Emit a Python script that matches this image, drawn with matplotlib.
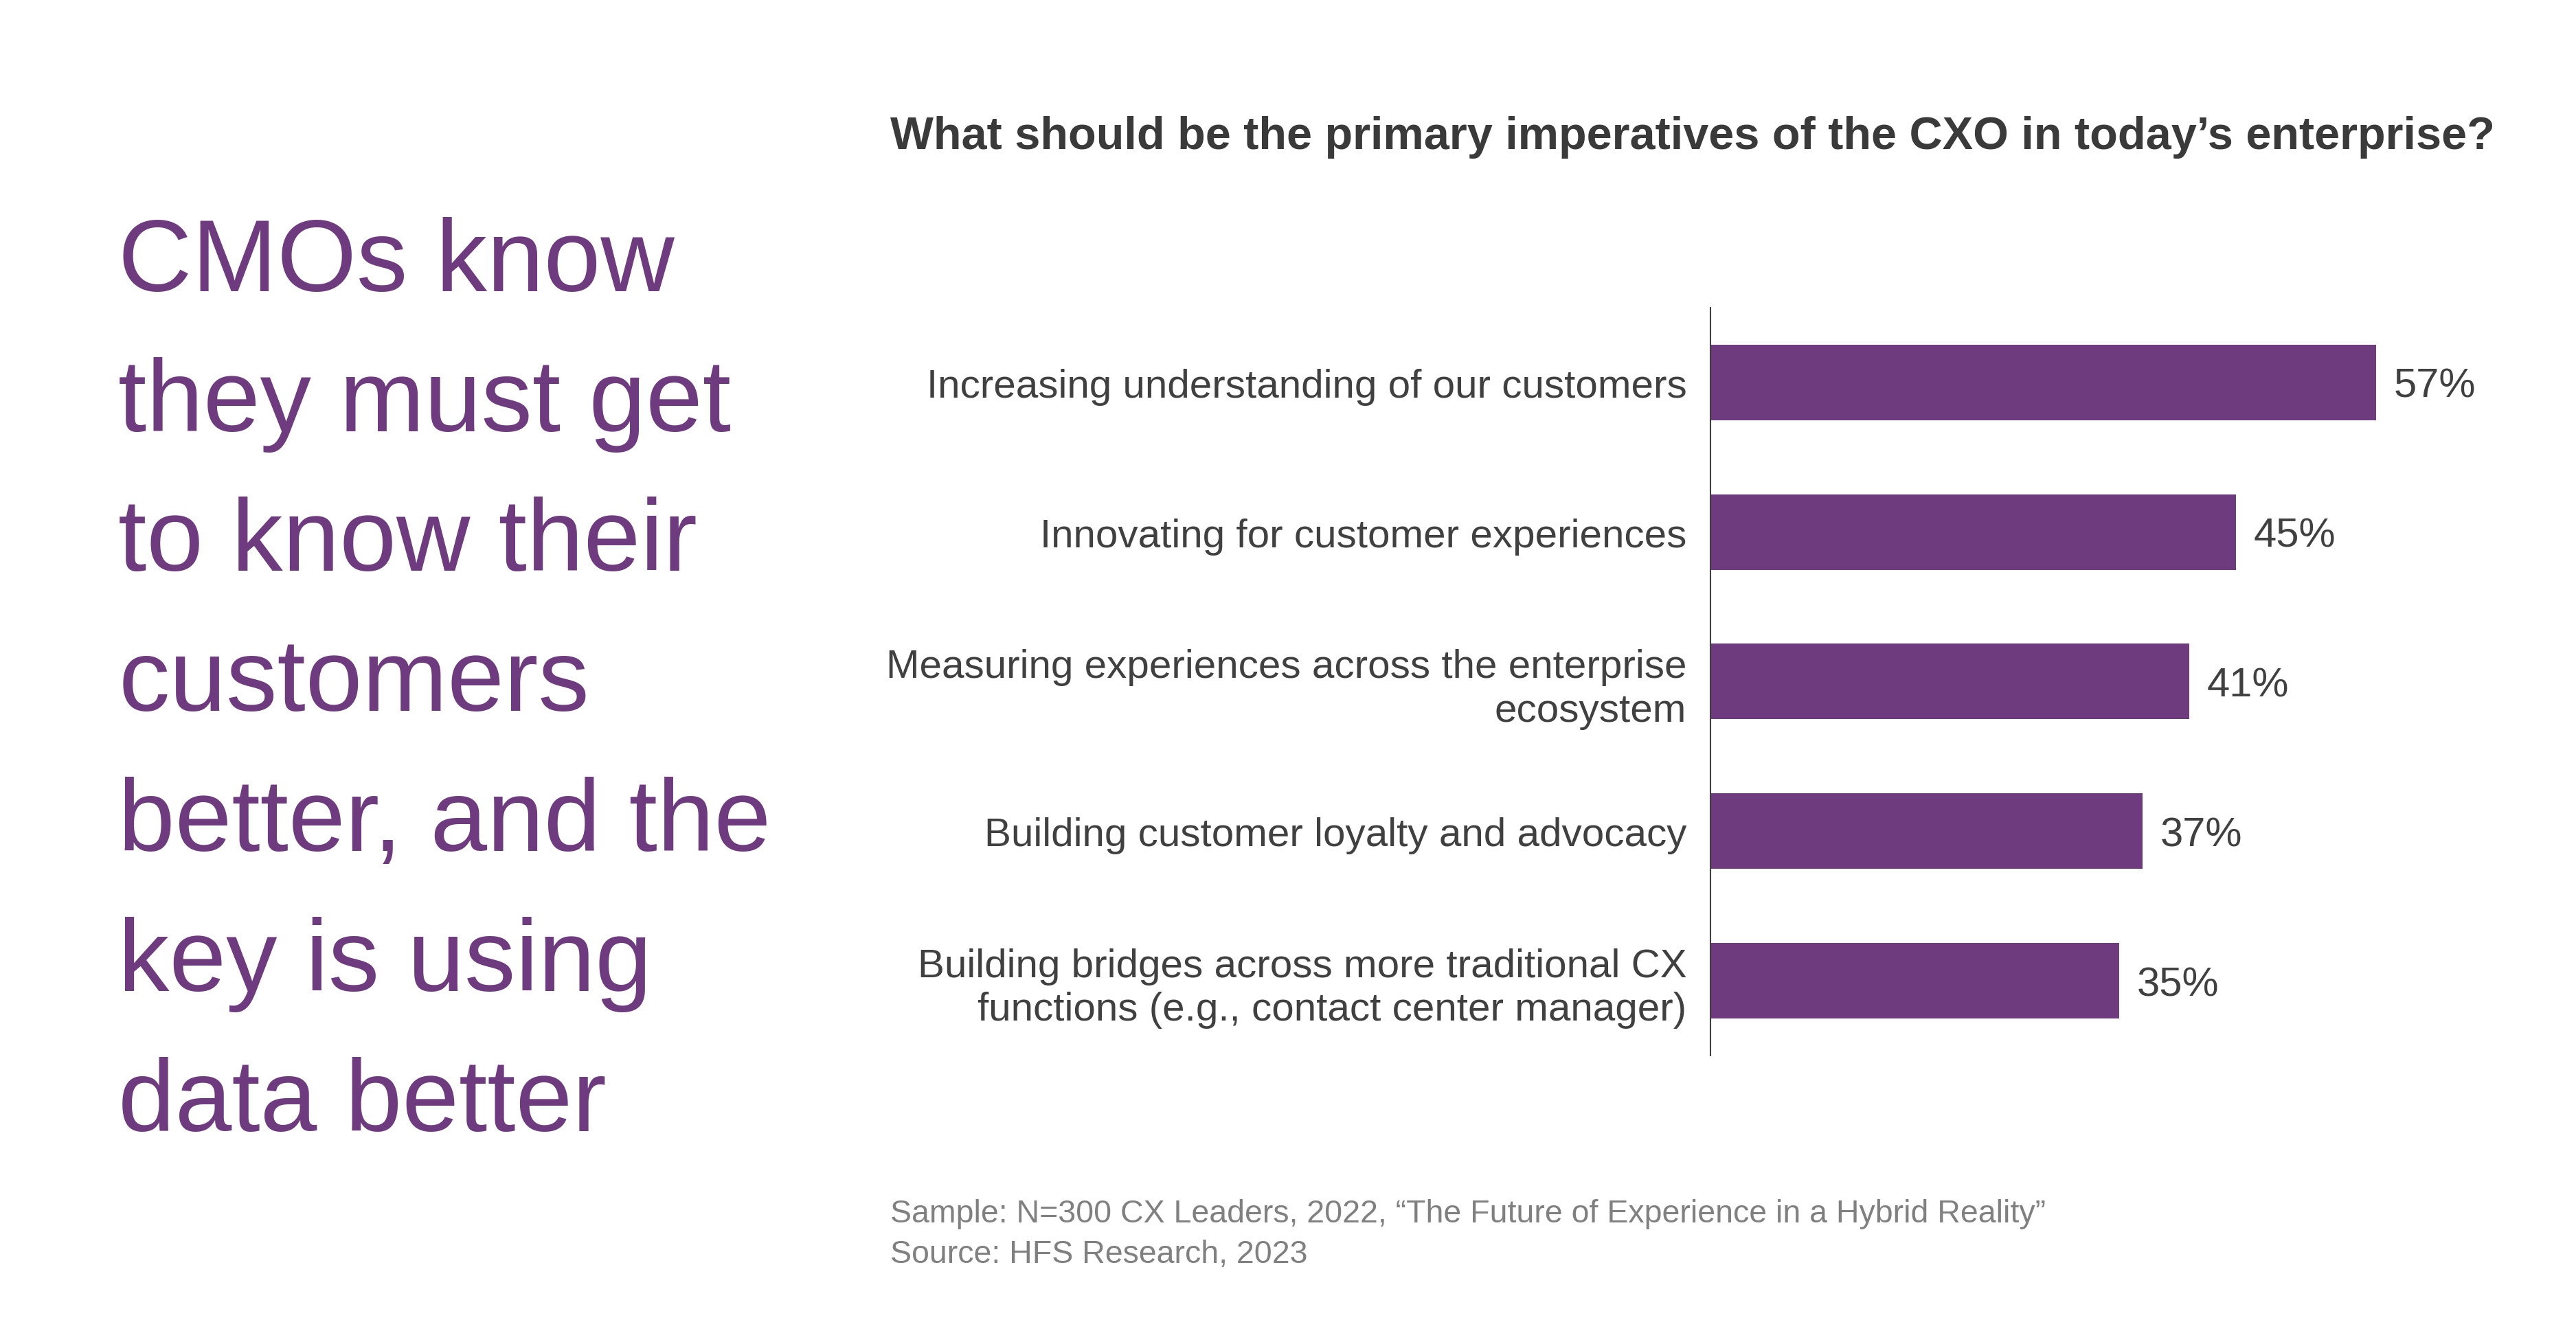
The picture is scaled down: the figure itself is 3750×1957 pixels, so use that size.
import matplotlib.pyplot as plt

plt.rcParams['font.family'] = ['Liberation Sans', 'DejaVu Sans']

# Datos
categorias = [
    "Increasing understanding of our customers",
    "Innovating for customer experiences",
    "Measuring experiences across the enterprise\necosystem",
    "Building customer loyalty and advocacy",
    "Building bridges across more traditional CX\nfunctions (e.g., contact center manager)",
]
valores = [57, 45, 41, 37, 35]

titulo = "What should be the primary imperatives of the CXO in today\u2019s enterprise?"
mensaje = ("CMOs know\nthey must get\nto know their\ncustomers\n"
           "better, and the\nkey is using\ndata better")
nota = ("Sample: N=300 CX Leaders, 2022, \u201cThe Future of Experience in a Hybrid Reality\u201d\n"
        "Source: HFS Research, 2023")

morado = '#6e3b7e'
gris_texto = '#404040'

fig = plt.figure(figsize=(37.5, 19.58), dpi=100)
ax = fig.add_axes([0.664, 0.2145, 0.3128, 0.5562])

y = list(range(len(categorias)))
ax.barh(y, valores, height=0.505, color=morado)
ax.set_ylim(len(categorias) - 0.5, -0.5)
ax.set_xlim(0, 69)

# etiquetas de valor, un poco más abajo para centrar los dígitos en la barra
for yi, v in zip(y, valores):
    ax.text(v + 1.5, yi + 0.025, f"{v}%", va='center', ha='left', fontsize=43, color=gris_texto)

ax.set_yticks(y)
ax.set_yticklabels(categorias, fontsize=42, color=gris_texto, linespacing=1.22)
ax.tick_params(axis='y', length=0, pad=25)
ax.set_xticks([])
for s in ['top', 'right', 'bottom']:
    ax.spines[s].set_visible(False)
ax.spines['left'].set_color('#404040')
ax.spines['left'].set_linewidth(1.5)

fig.text(0.3455, 0.898, titulo, fontsize=48, fontweight='bold', color='#3a3a3a',
         ha='left', va='center')
fig.text(0.046, 0.491, mensaje, fontsize=107, color=morado, ha='left', va='center',
         linespacing=1.6)
fig.text(0.3455, 0.082, nota, fontsize=33.5, color='#808080', ha='left', va='center',
         linespacing=1.45)

fig.savefig('out.png', dpi=100, facecolor='white')
